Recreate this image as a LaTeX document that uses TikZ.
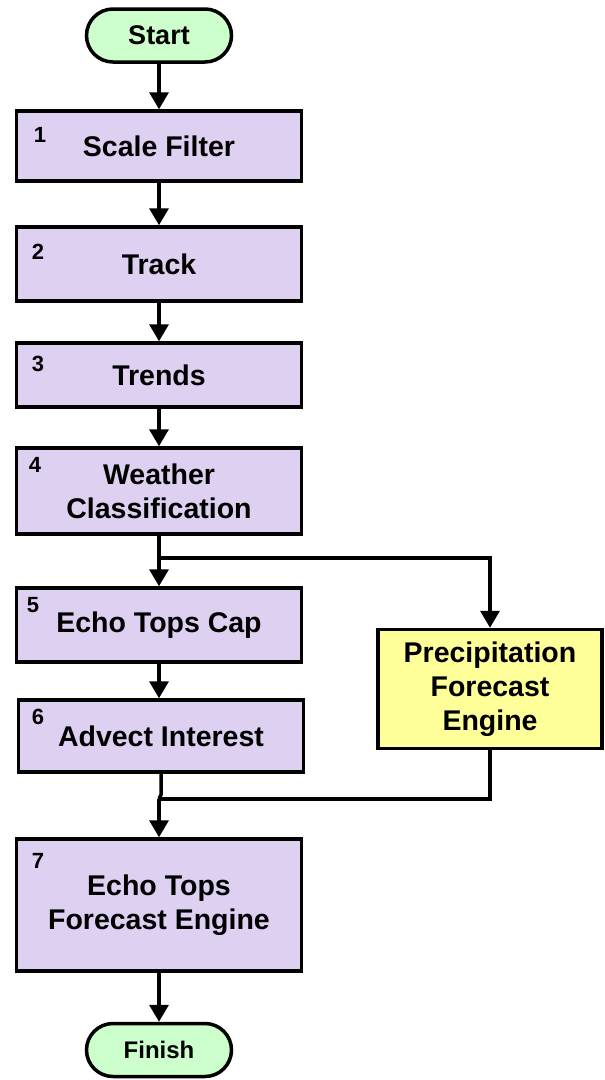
\documentclass[tikz,border=0pt]{standalone}
\usepackage{fontspec}
\setmainfont{Liberation Sans}
\usetikzlibrary{arrows.meta,shapes.misc}
\definecolor{lav}{RGB}{221,208,241}
\definecolor{mint}{RGB}{204,255,204}
\definecolor{lemon}{RGB}{255,255,153}
\begin{document}
\begin{tikzpicture}[x=1pt,y=-1pt,
  box/.style={draw, line width=3.5pt, fill=lav, align=center, inner sep=0pt,
    font=\bfseries\fontsize{28.5}{34}\selectfont},
  ybox/.style={box, fill=lemon},
  term/.style={draw, line width=3.5pt, fill=mint, rounded rectangle, inner sep=0pt,
    minimum width=145pt, minimum height=53pt},
  num/.style={font=\bfseries\fontsize{22}{22}\selectfont, inner sep=0pt},
  link/.style={line width=3.5pt},
  arr/.style={link, -{Triangle[length=17pt,width=19pt]}}]
\useasboundingbox (0,0) rectangle (605,1080);
% terminals
\node[term, font=\bfseries\fontsize{27}{30}\selectfont] (start) at (159,35.5) {Start};
\node[term, font=\bfseries\fontsize{24}{28}\selectfont] (finish) at (159,1050) {Finish};
% process boxes
\node[box, minimum width=285pt, minimum height=70pt] (b1) at (159,146) {Scale Filter};
\node[box, minimum width=285pt, minimum height=74pt] (b2) at (159,264) {Track};
\node[box, minimum width=285pt, minimum height=64pt] (b3) at (159,375) {Trends};
\node[box, minimum width=285pt, minimum height=86pt] (b4) at (159,491) {Weather\\Classification};
\node[box, minimum width=285pt, minimum height=74pt] (b5) at (159,625) {Echo Tops Cap};
\node[box, minimum width=285pt, minimum height=72pt] (b6) at (161,736) {Advect Interest};
\node[box, minimum width=285pt, minimum height=132pt] (b7) at (159,905) {Echo Tops\\Forecast Engine};
\node[ybox, minimum width=224pt, minimum height=119pt] (pfe) at (490,689) {Precipitation\\Forecast\\Engine};
% step numbers
\node[num] (n1) at (40,135) {1};
\node[num] (n2) at (38,252) {2};
\node[num] (n3) at (38,364) {3};
\node[num] (n4) at (35,465) {4};
\node[num] (n5) at (33,605) {5};
\node[num] (n6) at (38,717) {6};
\node[num] (n7) at (38,861) {7};
% junctions
\coordinate (j1) at (159,558);
\coordinate (j2) at (159,799);
% connectors
\draw[arr] (start.south) -- (start.south |- b1.north);
\draw[arr] (b1.south) -- (b1.south |- b2.north);
\draw[arr] (b2.south) -- (b2.south |- b3.north);
\draw[arr] (b3.south) -- (b3.south |- b4.north);
\draw[arr] (b4.south) -- (b4.south |- b5.north);
\draw[arr] (j1) -| (pfe.north);
\draw[arr] (b5.south) -- (b5.south |- b6.north);
\draw[link] (b6.south) -- ++(0,21) -- (j2);
\draw[link] (pfe.south) |- (j2);
\draw[arr] (j2) -- (j2 |- b7.north);
\draw[arr] (b7.south) -- (b7.south |- finish.north);
\end{tikzpicture}
\end{document}
